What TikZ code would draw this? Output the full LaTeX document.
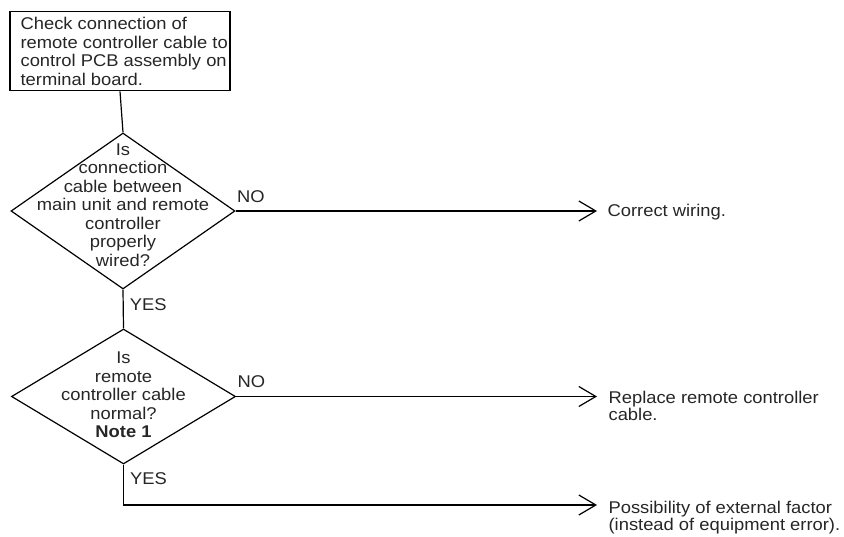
\documentclass[tikz,border=0pt]{standalone}
\usepackage{fontspec}
\setmainfont{Liberation Sans}[FakeStretch=1.08]
\usetikzlibrary{shapes.geometric,arrows.meta}

\begin{document}
\begin{tikzpicture}[x=1pt, y=-1pt, >={Straight Barb[length=17pt,width=20pt]}, line width=1.2pt,
    txt/.style={inner sep=0pt, text=black!85, font=\fontsize{17}{18.5}\selectfont},
    res/.style={txt, align=left, anchor=north west, font=\fontsize{17}{16.5}\selectfont},
    decision/.style={draw, diamond, inner sep=0pt, minimum width=224pt}]
    \useasboundingbox (0,0) rectangle (844,537);
    % start box
    \node[draw, inner sep=0pt, minimum width=220pt, minimum height=79pt] (chk) at (120,51.2) {};
    \node[txt, align=left, anchor=north west] (chkt) at (20,17) {Check connection of\\remote controller cable to\\control PCB assembly on\\terminal board.};
    % decisions
    \node[decision, minimum height=156pt] (q1) at (123,211) {};
    \node[txt, align=center] (q1t) at (123,205) {Is\\connection\\cable between\\main unit and remote\\controller\\properly\\wired?};
    \node[decision, minimum height=135pt] (q2) at (123.5,396.5) {};
    \node[txt, align=center] (q2t) at (123.5,395) {Is\\remote\\controller cable\\normal?\\\textbf{Note 1}};
    % results
    \coordinate (e1) at (597,211);
    \coordinate (e2) at (597,396.5);
    \coordinate (e3) at (597,505);
    \node[res] (r1) at (607,204) {Correct wiring.};
    \node[res] (r2) at (608,391) {Replace remote controller\\cable.};
    \node[res] (r3) at (608,501) {Possibility of external factor\\(instead of equipment error).};
    % connectors
    \draw (chk.south) -- (q1.north);
    \draw (q1.south) -- node[txt, right, inner xsep=6pt, pos=0.38]{YES} (q2.north);
    \draw[->] (q1.east) -- node[txt, anchor=south west, pos=0, inner sep=1pt, yshift=7pt]{NO} (e1);
    \draw[->] (q2.east) -- node[txt, anchor=south west, pos=0, inner sep=1pt, yshift=7pt]{NO} (e2);
    \draw[->] (q2.south) -- node[txt, right, inner xsep=6pt, pos=0.35]{YES} (q2.south |- e3) -- (e3);
\end{tikzpicture}
\end{document}
